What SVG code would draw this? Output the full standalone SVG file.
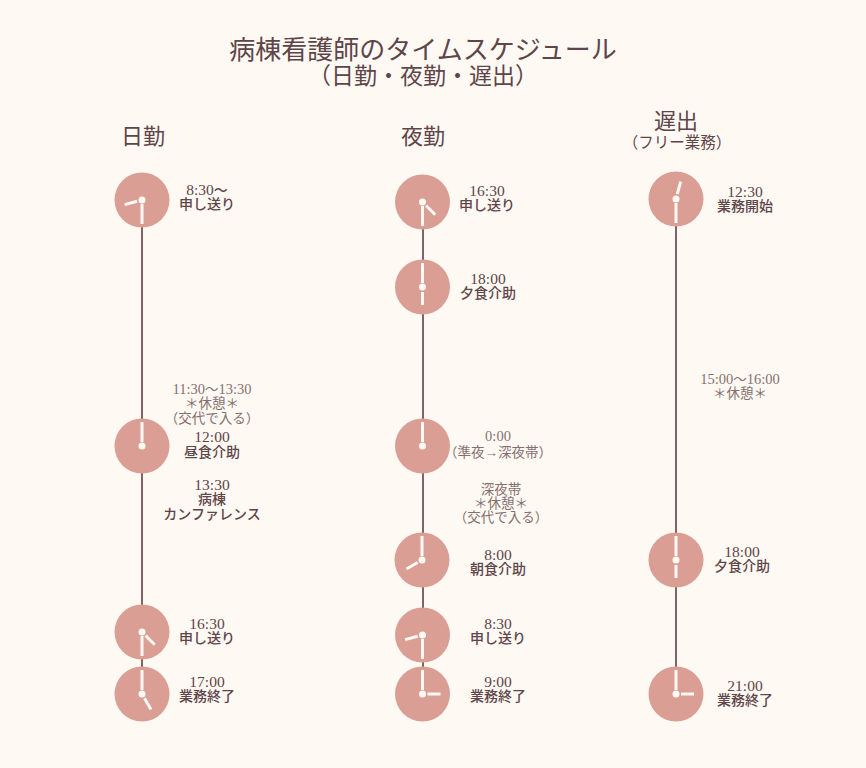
<svg xmlns="http://www.w3.org/2000/svg" width="866" height="768" viewBox="0 0 866 768">
<style>
text{font-family:"Liberation Serif","Noto Sans CJK JP",serif;text-anchor:middle;fill:#5e4549}
.title{font-size:26px}
.sub{font-size:23px}
.head{font-size:22px}
.small{font-size:15.5px}
.lab{font-size:14px;font-weight:500}
.note{font-size:13.5px;fill:#85706f}
.d{font-size:15.5px}
.nd{font-size:14.5px}
.conn line{stroke:#7f6467;stroke-width:2}
.face{fill:#db9e94}
.hub{fill:#fff9f4}
.hand{stroke:#fff9f4;stroke-width:3}
</style>
<defs>
<g id="m"><line class="hand" x1="0" y1="-4" x2="0" y2="-24"/></g>
<g id="h"><line class="hand" x1="0" y1="-5" x2="0" y2="-18"/></g>
</defs>
<rect width="866" height="768" fill="#fff9f4"/>
<text class="title" x="423" y="59">病棟看護師のタイムスケジュール</text>
<text class="sub" x="423" y="84">（日勤・夜勤・遅出）</text>
<text class="head" x="143" y="144">日勤</text>
<text class="head" x="423" y="144">夜勤</text>
<text class="head" x="676" y="129">遅出</text>
<text class="small" x="677" y="148">（フリー業務）</text>
<g class="conn">
<line x1="142" y1="200" x2="142" y2="694"/>
<line x1="423" y1="202" x2="423" y2="694"/>
<line x1="676" y1="199" x2="676" y2="694"/>
</g>
<g id="d1">
<circle class="face" cx="142" cy="200" r="27.5"/><circle class="hub" cx="142" cy="200" r="3.5"/>
<use href="#m" transform="translate(142 200) rotate(180)"/><use href="#h" transform="translate(142 200) rotate(255)"/>
<text class="lab" x="207" y="195"><tspan class="d">8:30</tspan>～</text><text class="lab" x="207" y="209">申し送り</text>
</g>
<g id="d2">
<circle class="face" cx="142" cy="446" r="27.5"/><circle class="hub" cx="142" cy="446" r="3.5"/>
<use href="#m" transform="translate(142 446)"/>
<text class="note" x="212" y="394"><tspan class="nd">11:30</tspan>～<tspan class="nd">13:30</tspan></text><text class="note" x="212" y="408">＊休憩＊</text><text class="note" x="212" y="423">（交代で入る）</text>
<text class="lab d" x="212" y="442">12:00</text><text class="lab" x="212" y="457">昼食介助</text>
</g>
<g id="d3">
<text class="lab d" x="212" y="490">13:30</text><text class="lab" x="212" y="504">病棟</text><text class="lab" x="212" y="519">カンファレンス</text>
</g>
<g id="d4">
<circle class="face" cx="142" cy="632" r="27.5"/><circle class="hub" cx="142" cy="632" r="3.5"/>
<use href="#m" transform="translate(142 632) rotate(180)"/><use href="#h" transform="translate(142 632) rotate(135)"/>
<text class="lab d" x="207" y="629">16:30</text><text class="lab" x="207" y="643">申し送り</text>
</g>
<g id="d5">
<circle class="face" cx="142" cy="694" r="27.5"/><circle class="hub" cx="142" cy="694" r="3.5"/>
<use href="#m" transform="translate(142 694)"/><use href="#h" transform="translate(142 694) rotate(150)"/>
<text class="lab d" x="207" y="687">17:00</text><text class="lab" x="207" y="701">業務終了</text>
</g>
<g id="n1">
<circle class="face" cx="422.5" cy="202" r="27.5"/><circle class="hub" cx="422.5" cy="202" r="3.5"/>
<use href="#m" transform="translate(422.5 202) rotate(180)"/><use href="#h" transform="translate(422.5 202) rotate(135)"/>
<text class="lab d" x="487" y="196">16:30</text><text class="lab" x="487" y="210">申し送り</text>
</g>
<g id="n2">
<circle class="face" cx="422.5" cy="287" r="27.5"/><circle class="hub" cx="422.5" cy="287" r="3.5"/>
<use href="#m" transform="translate(422.5 287)"/><use href="#h" transform="translate(422.5 287) rotate(180)"/>
<text class="lab d" x="488" y="284">18:00</text><text class="lab" x="488" y="298">夕食介助</text>
</g>
<g id="n3">
<circle class="face" cx="422.5" cy="446" r="27.5"/><circle class="hub" cx="422.5" cy="446" r="3.5"/>
<use href="#m" transform="translate(422.5 446)"/>
<text class="note nd" x="498" y="441">0:00</text><text class="note" x="498" y="456.5">（準夜→深夜帯）</text>
</g>
<g id="n4">
<text class="note" x="501" y="494">深夜帯</text><text class="note" x="501" y="508">＊休憩＊</text><text class="note" x="501" y="522">（交代で入る）</text>
</g>
<g id="n5">
<circle class="face" cx="422" cy="560" r="27.5"/><circle class="hub" cx="422" cy="560" r="3.5"/>
<use href="#m" transform="translate(422 560)"/><use href="#h" transform="translate(422 560) rotate(240)"/>
<text class="lab d" x="498" y="560">8:00</text><text class="lab" x="498" y="574">朝食介助</text>
</g>
<g id="n6">
<circle class="face" cx="422.5" cy="635" r="27.5"/><circle class="hub" cx="422.5" cy="635" r="3.5"/>
<use href="#m" transform="translate(422.5 635) rotate(180)"/><use href="#h" transform="translate(422.5 635) rotate(255)"/>
<text class="lab d" x="498" y="629">8:30</text><text class="lab" x="498" y="643">申し送り</text>
</g>
<g id="n7">
<circle class="face" cx="422.5" cy="694" r="27.5"/><circle class="hub" cx="422.5" cy="694" r="3.5"/>
<use href="#m" transform="translate(422.5 694)"/><use href="#h" transform="translate(422.5 694) rotate(90)"/>
<text class="lab d" x="498" y="687">9:00</text><text class="lab" x="498" y="701">業務終了</text>
</g>
<g id="l1">
<circle class="face" cx="676" cy="199" r="27.5"/><circle class="hub" cx="676" cy="199" r="3.5"/>
<use href="#m" transform="translate(676 199) rotate(180)"/><use href="#h" transform="translate(676 199) rotate(15)"/>
<text class="lab d" x="745" y="197">12:30</text><text class="lab" x="745" y="211">業務開始</text>
</g>
<g id="l2">
<text class="note" x="740" y="384"><tspan class="nd">15:00</tspan>～<tspan class="nd">16:00</tspan></text><text class="note" x="740" y="398">＊休憩＊</text>
</g>
<g id="l3">
<circle class="face" cx="676" cy="560" r="27.5"/><circle class="hub" cx="676" cy="560" r="3.5"/>
<use href="#m" transform="translate(676 560)"/><use href="#h" transform="translate(676 560) rotate(180)"/>
<text class="lab d" x="742" y="557">18:00</text><text class="lab" x="742" y="571">夕食介助</text>
</g>
<g id="l4">
<circle class="face" cx="676" cy="694" r="27.5"/><circle class="hub" cx="676" cy="694" r="3.5"/>
<use href="#m" transform="translate(676 694)"/><use href="#h" transform="translate(676 694) rotate(90)"/>
<text class="lab d" x="745" y="691">21:00</text><text class="lab" x="745" y="705">業務終了</text>
</g>
</svg>
